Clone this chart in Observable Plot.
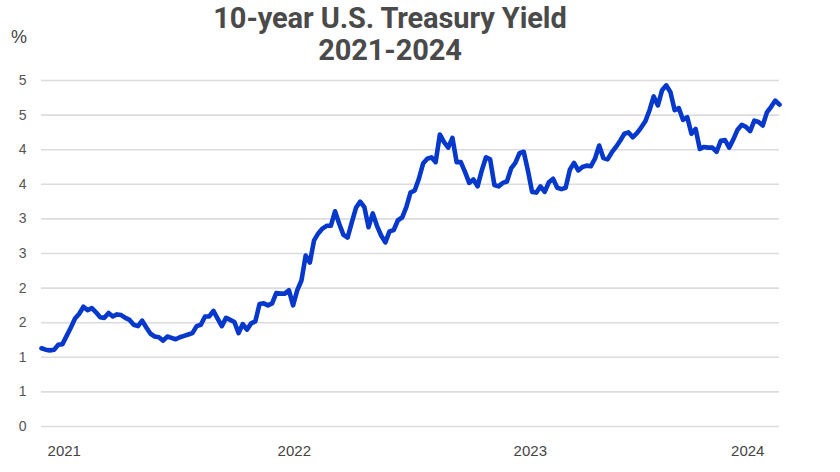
<!DOCTYPE html>
<html>
<head>
<meta charset="utf-8">
<script src="https://cdn.jsdelivr.net/npm/d3@7"></script>
<script src="https://cdn.jsdelivr.net/npm/@observablehq/plot@0.6"></script>
<style>
  html, body { margin: 0; padding: 0; background: #fff; }
  #wrap { position: relative; width: 840px; height: 472px; overflow: hidden; }
  #title { position: absolute; left: 0; top: 2px; width: 780px; text-align: center;
           font-family: Roboto, "Liberation Sans", sans-serif; font-weight: 700; font-size: 29px;
           line-height: 32px; color: #4a4a4a; letter-spacing: -0.1px; }
  #unit { position: absolute; left: 11px; top: 27px; font-family: "Liberation Sans", Arial, sans-serif;
          font-size: 18px; color: #444; }
  #chart { position: absolute; left: 0; top: 0; }
</style>
</head>
<body>
<div id="wrap">
  <div id="chart"></div>
  <div id="title">10-year U.S. Treasury Yield<br>2021-2024</div>
  <div id="unit">%</div>
</div>
<script>
// Weekly 10-year U.S. Treasury yield (%)
const startWeek = "2021-01-15";
const yields = [
  1.13,1.11,1.10,1.11,1.18,1.19,1.31,1.43,1.56,1.63,1.73,1.68,1.71,1.65,1.58,1.57,1.64,1.59,1.62,1.61,
  1.57,1.54,1.47,1.45,1.53,1.43,1.34,1.30,1.29,1.24,1.30,1.28,1.26,1.29,1.31,1.33,1.35,1.45,1.47,1.59,
  1.59,1.67,1.56,1.45,1.57,1.54,
  1.51,1.35,1.48,1.40,1.49,
  1.52,1.77,1.78,1.75,1.78,1.93,1.92,1.92,1.97,1.75,1.97,2.11,2.47,2.37,2.69,2.79,2.86,2.90,2.90,3.11,
  2.93,2.77,2.73,2.95,3.16,3.25,3.17,2.88,3.08,2.90,2.76,2.66,2.82,2.84,2.98,3.02,3.17,3.38,
  3.41,3.58,3.80,3.87,3.89,3.82,4.22,4.11,4.03,4.17,3.82,3.82,3.68,3.52,3.57,3.47,3.70,3.89,3.86,3.49,
  3.47,3.52,3.54,3.73,3.81,3.95,3.97,3.70,3.39,3.38,3.47,3.39,3.53,3.58,3.45,3.43,3.45,3.71,3.81,3.70,
  3.75,3.77,3.76,3.87,4.06,
  3.88,3.86,3.96,4.04,4.13,4.23,4.25,4.18,4.24,4.32,4.41,4.57,4.77,4.64,4.86,4.93,4.83,4.57,4.60,4.43,
  4.47,4.23,4.30,4.01,4.04,4.03,4.03,3.97,4.13,4.14,4.03,4.15,4.29,4.36,4.33,4.27,4.42,4.40,4.35,4.54,
  4.62,4.71,4.65
];
const yTicks = [0, 0.5, 1, 1.5, 2, 2.5, 3, 3.5, 4, 4.5, 5];
const yTickLabels = ["0", "1", "1", "2", "2", "3", "3", "4", "4", "5", "5"];
const xTickDates = ["2021-02-22", "2022-03-13", "2023-04-11", "2024-04-08"];
const xTickLabels = ["2021", "2022", "2023", "2024"];

const start = new Date(startWeek);
const data = yields.map((v, i) => ({date: d3.utcDay.offset(start, 7 * i), value: v}));
const xTicks = xTickDates.map(d => new Date(d));

const chart = Plot.plot({
  width: 840,
  height: 472,
  marginLeft: 41,
  marginRight: 61,
  marginTop: 80,
  marginBottom: 46,
  style: {fontFamily: "'Liberation Sans', Arial, sans-serif", background: "#fff"},
  x: {type: "utc", domain: [data[0].date, data[data.length - 1].date]},
  y: {domain: [0, 5]},
  marks: [
    Plot.ruleY(yTicks, {stroke: "#dcdcdc", strokeWidth: 1.6}),
    Plot.axisY({ticks: yTicks, tickFormat: (d, i) => yTickLabels[i], tickSize: 0, tickPadding: 15,
                fontSize: 14, fill: "#555", label: null}),
    Plot.axisX({ticks: xTicks, tickFormat: (d, i) => xTickLabels[i], tickSize: 0, tickPadding: 19,
                fontSize: 15, fill: "#444", label: null}),
    Plot.lineY(data, {x: "date", y: "value", stroke: "#0638cc", strokeWidth: 4.6,
                      strokeLinejoin: "round", strokeLinecap: "round"})
  ]
});
document.getElementById("chart").appendChild(chart);
</script>
</body>
</html>
